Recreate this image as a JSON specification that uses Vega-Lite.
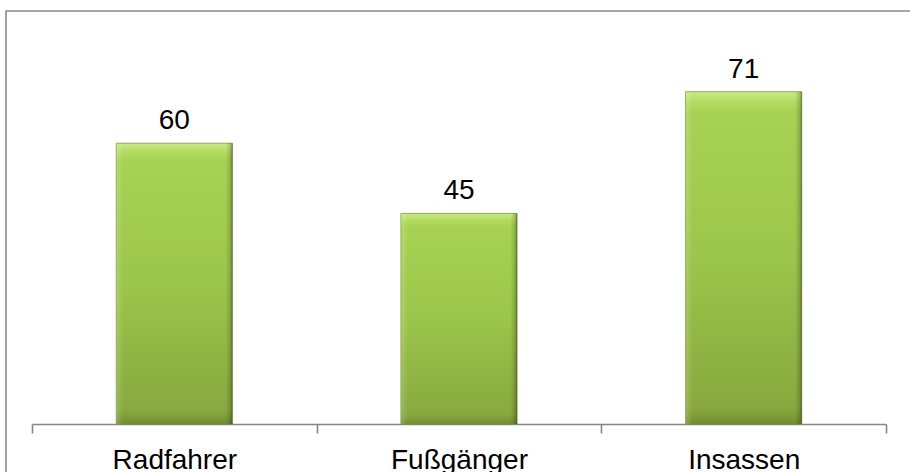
{
  "$schema": "https://vega.github.io/schema/vega-lite/v6.json",
  "autosize": "none",
  "width": 912,
  "height": 472,
  "padding": {"left": 6, "top": 11, "right": 0, "bottom": 0},
  "background": "white",
  "config": {
    "view": {"stroke": "#8a8a8a", "strokeWidth": 1.6},
    "font": "Liberation Sans"
  },
  "data": {
    "values": [
      {"kategorie": "Radfahrer", "wert": 60},
      {"kategorie": "Fußgänger", "wert": 45},
      {"kategorie": "Insassen", "wert": 71}
    ]
  },
  "encoding": {
    "x": {
      "field": "kategorie",
      "type": "nominal",
      "sort": null,
      "scale": {"range": [26, 880], "paddingInner": 0, "paddingOuter": 0},
      "axis": {
        "title": null,
        "orient": "bottom",
        "offset": -59,
        "tickBand": "extent",
        "domainColor": "#868686",
        "domainWidth": 1.6,
        "tickColor": "#868686",
        "tickWidth": 1.6,
        "tickSize": 9,
        "labelAngle": 0,
        "labelBaseline": "alphabetic",
        "labelPadding": 35,
        "labelFont": "Liberation Sans",
        "labelFontSize": 28,
        "labelColor": "#000000",
        "grid": false
      }
    },
    "y": {
      "field": "wert",
      "type": "quantitative",
      "scale": {"domain": [0, 80], "range": [413, 38.6], "nice": false},
      "axis": null
    }
  },
  "layer": [
    {
      "mark": {
        "type": "bar",
        "width": {"band": 0.408},
        "stroke": "#7a9635",
        "strokeWidth": 0.8,
        "fill": {
          "gradient": "linear",
          "x1": 0, "y1": 0, "x2": 0, "y2": 1,
          "stops": [
            {"offset": 0, "color": "#c9ea85"},
            {"offset": 0.03, "color": "#b4dc62"},
            {"offset": 0.06, "color": "#a8d254"},
            {"offset": 0.5, "color": "#9cc54b"},
            {"offset": 0.95, "color": "#88a93f"},
            {"offset": 0.975, "color": "#7f9e3a"},
            {"offset": 1, "color": "#6f8b31"}
          ]
        }
      }
    },
    {
      "mark": {
        "type": "bar",
        "width": {"band": 0.408},
        "fill": {
          "gradient": "linear",
          "x1": 0, "y1": 0, "x2": 1, "y2": 0,
          "stops": [
            {"offset": 0, "color": "rgba(255,255,255,0.18)"},
            {"offset": 0.06, "color": "rgba(255,255,255,0)"},
            {"offset": 0.94, "color": "rgba(0,0,0,0)"},
            {"offset": 0.975, "color": "rgba(0,0,0,0.12)"},
            {"offset": 1, "color": "rgba(0,0,0,0.35)"}
          ]
        }
      }
    },
    {
      "mark": {
        "type": "text",
        "baseline": "alphabetic",
        "dy": -14,
        "fontSize": 28,
        "font": "Liberation Sans",
        "color": "#000000"
      },
      "encoding": {"text": {"field": "wert", "type": "quantitative"}}
    }
  ]
}
